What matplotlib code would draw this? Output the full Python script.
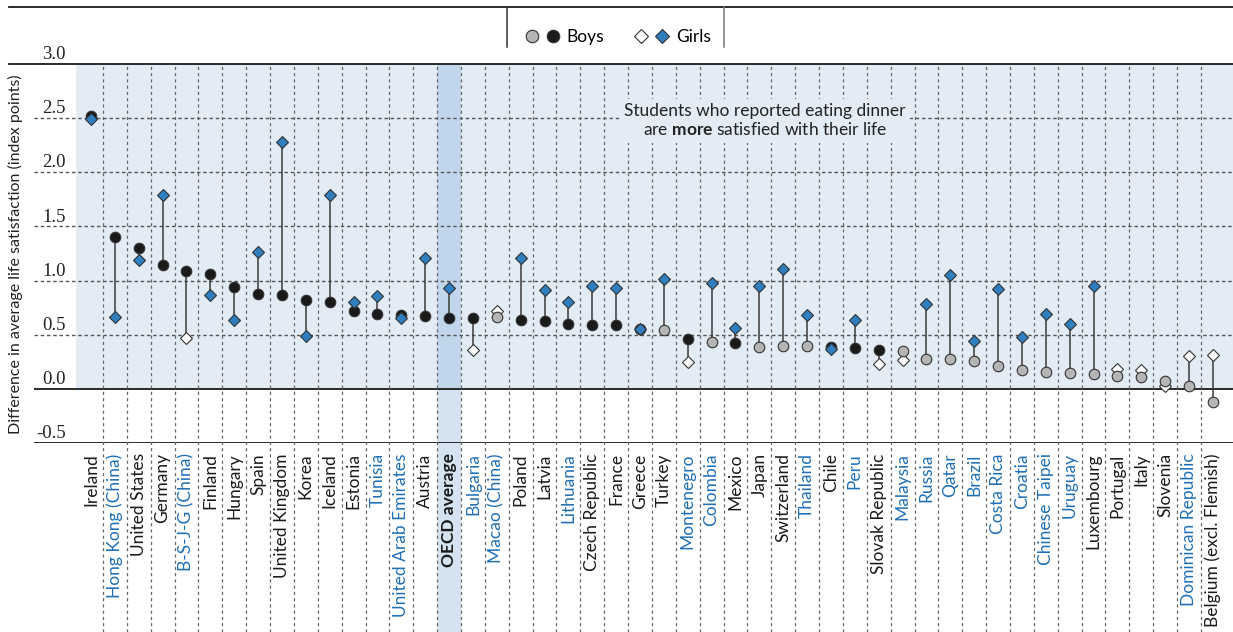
import matplotlib
matplotlib.use('Agg')
import matplotlib.pyplot as plt
from matplotlib.lines import Line2D
from matplotlib.legend_handler import HandlerTuple
import numpy as np

# DATA
countries = ['Ireland', 'Hong Kong (China)', 'United States', 'Germany', 'B-S-J-G (China)',
             'Finland', 'Hungary', 'Spain', 'United Kingdom', 'Korea', 'Iceland', 'Estonia',
             'Tunisia', 'United Arab Emirates', 'Austria', 'OECD average', 'Bulgaria',
             'Macao (China)', 'Poland', 'Latvia', 'Lithuania', 'Czech Republic', 'France',
             'Greece', 'Turkey', 'Montenegro', 'Colombia', 'Mexico', 'Japan', 'Switzerland',
             'Thailand', 'Chile', 'Peru', 'Slovak Republic', 'Malaysia', 'Russia', 'Qatar',
             'Brazil', 'Costa Rica', 'Croatia', 'Chinese Taipei', 'Uruguay', 'Luxembourg',
             'Portugal', 'Italy', 'Slovenia', 'Dominican Republic', 'Belgium (excl. Flemish)']

boys = [2.52, 1.40, 1.30, 1.14, 1.09, 1.06, 0.94, 0.88, 0.87, 0.82, 0.80, 0.72,
        0.69, 0.68, 0.67, 0.65, 0.65, 0.66, 0.64, 0.63, 0.60, 0.59, 0.59, 0.55,
        0.54, 0.46, 0.43, 0.42, 0.39, 0.40, 0.40, 0.39, 0.38, 0.36, 0.35, 0.28,
        0.28, 0.26, 0.21, 0.17, 0.16, 0.15, 0.14, 0.12, 0.11, 0.07, 0.03, -0.12]

girls = [2.49, 0.66, 1.19, 1.79, 0.47, 0.87, 0.64, 1.26, 2.28, 0.49, 1.79, 0.80,
         0.86, 0.65, 1.21, 0.93, 0.36, 0.72, 1.21, 0.91, 0.80, 0.95, 0.93, 0.55,
         1.01, 0.25, 0.98, 0.56, 0.95, 1.11, 0.68, 0.37, 0.64, 0.23, 0.27, 0.78,
         1.05, 0.44, 0.92, 0.48, 0.69, 0.60, 0.95, 0.18, 0.17, 0.03, 0.30, 0.31]

# 1 = statistically significant (dark / blue marker), 0 = not significant
boys_sig = [1, 1, 1, 1, 1, 1, 1, 1, 1, 1, 1, 1, 1, 1, 1, 1, 1, 0, 1, 1, 1, 1, 1, 1,
            0, 1, 0, 1, 0, 0, 0, 1, 1, 1, 0, 0, 0, 0, 0, 0, 0, 0, 0, 0, 0, 0, 0, 0]
girls_sig = [1, 1, 1, 1, 0, 1, 1, 1, 1, 1, 1, 1, 1, 1, 1, 1, 0, 0, 1, 1, 1, 1, 1, 1,
             1, 0, 1, 1, 1, 1, 1, 1, 1, 0, 0, 1, 1, 1, 1, 1, 1, 1, 1, 0, 0, 0, 0, 0]

partners = {'Hong Kong (China)', 'B-S-J-G (China)', 'Tunisia', 'United Arab Emirates',
            'Bulgaria', 'Macao (China)', 'Lithuania', 'Montenegro', 'Colombia', 'Thailand',
            'Peru', 'Malaysia', 'Russia', 'Qatar', 'Brazil', 'Costa Rica', 'Croatia',
            'Chinese Taipei', 'Uruguay', 'Dominican Republic'}

yticks = [-0.5, 0.0, 0.5, 1.0, 1.5, 2.0, 2.5, 3.0]

# STYLE
SANS = ['Lato', 'DejaVu Sans']
SERIF = ['Liberation Serif', 'DejaVu Serif']
SHADE = '#e3ebf5'
OECD_UP = '#c1d6ea'
OECD_DOWN = '#d5e3f0'
DARK = '#1a1a1a'
GREY = '#b5b5b5'
BLUE = '#2f7ebf'
EDGE = '#333333'
PARTNER = '#1f6fb5'

plt.rcParams['mathtext.fontset'] = 'custom'
plt.rcParams['mathtext.rm'] = 'Lato'
plt.rcParams['mathtext.bf'] = 'Lato:bold'

W, H = 1233, 632
fig = plt.figure(figsize=(W / 100, H / 100), dpi=100)

# pixel geometry of the plotting area
x_left, x_right, y_top, y_bot = 34, 1233, 64, 443
ax = fig.add_axes([x_left / W, 1 - y_bot / H, (x_right - x_left) / W, (y_bot - y_top) / H])

x0, dx = 91, 23.87          # pixel centre of first category, category spacing
ax.set_xlim((x_left - x0) / dx, (x_right - x0) / dx)
ax.set_ylim(-0.5, 3.0)
ax.axis('off')

px_per_unit = (y_bot - y_top) / 3.5
y_img_bottom = -0.5 - (H - y_bot) / px_per_unit

n = len(countries)
xs = np.arange(n)
oecd_i = countries.index('OECD average')

# BACKGROUND SHADING
ax.fill_between([(76 - x0) / dx, (x_right - x0) / dx], 0, 3.0, color=SHADE, lw=0, zorder=0)
ax.fill_between([oecd_i - 0.5, oecd_i + 0.5], 0, 3.0, color=OECD_UP, lw=0, zorder=0.5)
ax.fill_between([oecd_i - 0.5, oecd_i + 0.5], y_img_bottom, 0, color=OECD_DOWN, lw=0,
                zorder=0.5, clip_on=False)

# GRID
for v in yticks:
    if v in (-0.5, 0.0):
        ax.axhline(v, color='#1a1a1a', lw=1.3, zorder=1)
    elif v == 3.0:
        ax.plot([(9 - x0) / dx, (x_right - x0) / dx], [v, v], color='#1a1a1a', lw=1.3,
                clip_on=False, zorder=1)
    else:
        ax.axhline(v, color='#555555', lw=1.0, ls=(0, (2.5, 2)), zorder=1)
    ax.text((66 - x0) / dx, v + 0.045, f'{v:.1f}', ha='right', va='baseline',
            fontsize=13.5, family=SERIF, color='#222222')

for b in xs[:-1] + 0.5:
    ax.plot([b, b], [y_img_bottom, 3.0], color='#666666', lw=0.9, ls=(0, (2.5, 2.5)),
            clip_on=False, zorder=1)

# DUMBBELLS
for i in xs:
    ax.plot([i, i], [boys[i], girls[i]], color='#3a3a3a', lw=1.1, zorder=2)

bfc = [DARK if s else GREY for s in boys_sig]
gfc = [BLUE if s else 'white' for s in girls_sig]
for i in xs:
    gz = 5 if girls_sig[i] else 3
    ax.plot(i, boys[i], 'o', ms=7.6, mfc=bfc[i], mec=EDGE, mew=0.8, zorder=4)
    ax.plot(i, girls[i], 'D', ms=6.0, mfc=gfc[i], mec=EDGE, mew=0.8, zorder=gz)

# CATEGORY LABELS
for i, name in enumerate(countries):
    col = PARTNER if name in partners else '#1a1a1a'
    ax.text(i, -0.595, name, rotation=90, ha='center', va='top', fontsize=12.5,
            family=SANS, color=col, fontweight='bold' if name == 'OECD average' else 'normal',
            clip_on=False)

# ANNOTATION
ax.text((765 - x0) / dx, 2.475,
        'Students who reported eating dinner\nare $\\mathbf{more}$ satisfied with their life',
        ha='center', va='center', fontsize=12.5, family=SANS, color='#222222',
        linespacing=1.15, zorder=3,
        bbox=dict(facecolor=SHADE, edgecolor='none', pad=3))

# Y LABEL
fig.text(15 / W, 1 - 254 / H, 'Difference in average life satisfaction (index points)',
         rotation=90, ha='center', va='center', fontsize=11.5, family=SANS, color='#222222')

# LEGEND BOX
fig.add_artist(Line2D([9 / W, 1], [1 - 7 / H, 1 - 7 / H], color='#1a1a1a', lw=1.3))
fig.add_artist(Line2D([507 / W, 507 / W], [1 - 7 / H, 1 - 47 / H], color='#333333', lw=1.1))
fig.add_artist(Line2D([724 / W, 724 / W], [1 - 7 / H, 1 - 47 / H], color='#777777', lw=1.1))

h_bg = Line2D([], [], ls='none', marker='o', ms=9, mfc=GREY, mec=EDGE, mew=0.8)
h_bd = Line2D([], [], ls='none', marker='o', ms=9, mfc=DARK, mec=EDGE, mew=0.8)
h_gw = Line2D([], [], ls='none', marker='D', ms=7.5, mfc='white', mec=EDGE, mew=0.8)
h_gb = Line2D([], [], ls='none', marker='D', ms=7.5, mfc=BLUE, mec=EDGE, mew=0.8)
fig.legend([(h_bg, h_bd), (h_gw, h_gb)], ['Boys', 'Girls'],
           handler_map={tuple: HandlerTuple(ndivide=None, pad=0.3)},
           ncol=2, frameon=False, loc='center', bbox_to_anchor=(617 / W, 1 - 37 / H),
           handlelength=2.2, handletextpad=0.3, columnspacing=1.6,
           prop={'family': SANS, 'size': 12.5})

fig.savefig('out.png', dpi=100)
